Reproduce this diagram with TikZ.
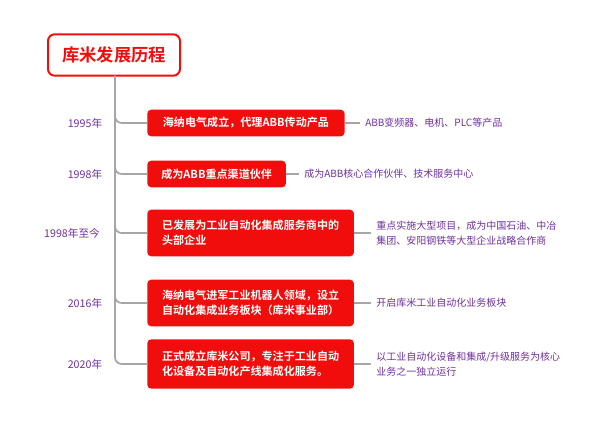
\documentclass[tikz,border=0pt]{standalone}
\usepackage{fontspec}
\setmainfont{Noto Sans CJK SC}
\newfontfamily\cjkb{Noto Sans CJK SC Bold}
\definecolor{redbox}{HTML}{F20D0D}
\definecolor{purp}{HTML}{7030A0}
\definecolor{ln}{HTML}{A6A6A6}
\begin{document}
\begin{tikzpicture}[x=0.75pt,y=-0.75pt,
 ev/.style={fill=redbox,rounded corners=3pt,text=white,font=\cjkb\fontsize{8.3}{11}\selectfont,align=left,anchor=west,inner xsep=8pt,inner ysep=0pt},
 yr/.style={text=purp,font=\fontsize{8}{10}\selectfont},
 ds/.style={text=purp,font=\fontsize{7.5}{11}\selectfont,align=left,anchor=west,inner xsep=0pt},
 ln/.style={draw=ln,line width=1.3pt,rounded corners=5pt}]
\useasboundingbox (0,0) rectangle (600,424);
\node[draw=redbox,line width=1.5pt,rounded corners=5pt,minimum width=130\pgflinewidth,text=redbox,font=\cjkb\fontsize{13}{15}\selectfont,minimum width=99pt,minimum height=31pt] (t) at (114,55) {库米发展历程};
\node[ev,minimum width=148pt,minimum height=20pt] (e1) at (147,123) {海纳电气成立，代理ABB传动产品};
\node[ev,minimum width=104pt,minimum height=20pt] (e2) at (147,174) {成为ABB重点渠道伙伴};
\node[ev,minimum width=155pt,minimum height=35pt] (e3) at (147,233) {已发展为工业自动化集成服务商中的\\头部企业};
\node[ev,minimum width=155pt,minimum height=35pt] (e4) at (147,303) {海纳电气进军工业机器人领域，设立\\自动化集成业务板块（库米事业部）};
\node[ev,minimum width=155pt,minimum height=37pt] (e5) at (147,364) {正式成立库米公司，专注于工业自动\\化设备及自动化产线集成化服务。};
\node[yr] (y1) at (85,123) {1995年};
\node[yr] (y2) at (85,174) {1998年};
\node[yr] (y3) at (72,233) {1998年至今};
\node[yr] (y4) at (85,303) {2016年};
\node[yr] (y5) at (85,364) {2020年};
\node[ds] (d1) at (365,123) {ABB变频器、电机、PLC等产品};
\node[ds] (d2) at (304,174) {成为ABB核心合作伙伴、技术服务中心};
\node[ds] (d3) at (376,233) {重点实施大型项目，成为中国石油、中冶\\集团、安阳钢铁等大型企业战略合作商};
\node[ds] (d4) at (376,303) {开启库米工业自动化业务板块};
\node[ds] (d5) at (376,364) {以工业自动化设备和集成/升级服务为核心\\业务之一独立运行};
\coordinate (tb) at (115,76);
\foreach \i in {1,...,5}{
 \draw[ln] (tb) |- (e\i.west);
 \draw[ln] (e\i.east) -- ([xshift=-4pt]d\i.west);
}
\end{tikzpicture}
\end{document}
